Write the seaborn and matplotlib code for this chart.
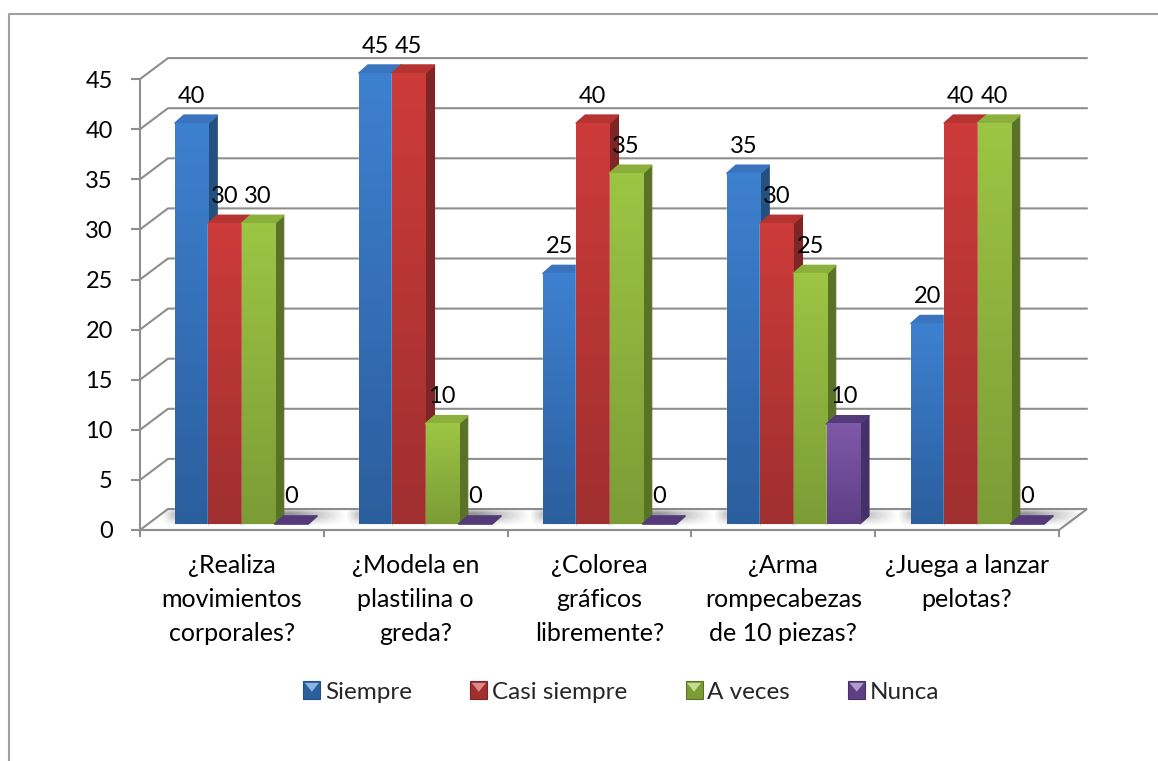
import numpy as np
import pandas as pd
import matplotlib
matplotlib.use('Agg')
import matplotlib.pyplot as plt
from matplotlib.colors import LinearSegmentedColormap, to_rgb
from matplotlib.legend_handler import HandlerBase
from matplotlib.lines import Line2D
from matplotlib.patches import Patch, Polygon, Rectangle
import seaborn as sns

preguntas = ['¿Realiza\nmovimientos\ncorporales?', '¿Modela en\nplastilina o\ngreda?',
             '¿Colorea\ngráficos\nlibremente?', '¿Arma\nrompecabezas\nde 10 piezas?',
             '¿Juega a lanzar\npelotas?']
series = ['Siempre', 'Casi siempre', 'A veces', 'Nunca']
siempre = [40, 45, 25, 35, 20]
casi_siempre = [30, 45, 40, 30, 40]
a_veces = [30, 10, 35, 25, 40]
nunca = [0, 0, 0, 10, 0]
marcas_y = [0, 5, 10, 15, 20, 25, 30, 35, 40, 45]

# claro, oscuro, lado, tapa
colores = {
    'Siempre': ('#3e80d0', '#2b5e9d', '#24507f', '#3a74bf'),
    'Casi siempre': ('#cc3b3a', '#a02f2f', '#7d2625', '#b53331'),
    'A veces': ('#9cc544', '#7c9c36', '#5a7228', '#8bb03c'),
    'Nunca': ('#7f58a8', '#5e3f85', '#45306a', '#553a7a'),
}

W, H = 1158, 761
GRIS = '#8e8e8e'
ESCALA = 10.02  # px por unidad

sns.set_style('white')
plt.rcParams['font.family'] = ['Lato', 'DejaVu Sans']
plt.rcParams['font.size'] = 17

df = pd.DataFrame({
    'pregunta': preguntas * 4,
    'serie': np.repeat(series, 5),
    'valor': siempre + casi_siempre + a_veces + nunca,
})

fig = plt.figure(figsize=(W / 100, H / 100), dpi=100, facecolor='white')

# borde del grafico, recortado a derecha y abajo
fig.add_artist(Line2D([9 / W, 9 / W, 1], [0, 1 - 14 / H, 1 - 14 / H], color='#a0a0a0', lw=1.5))

# paredes y ejes
ax = fig.add_axes([140 / W, (H - 530) / H, 919 / W, 45 * ESCALA / H])
ax.set_xlim(-0.5, 4.5)
ax.set_ylim(0, 45)
ax.patch.set_alpha(0)
sns.despine(ax=ax)
for s in ['left', 'bottom']:
    ax.spines[s].set_color(GRIS)
    ax.spines[s].set_linewidth(1.5)

fondo_x = 28 / (919 / 5)
fondo_y = 21 / ESCALA
ax.add_patch(Polygon([(-0.5, 0), (-0.5 + fondo_x, fondo_y), (4.5 + fondo_x, fondo_y), (4.5, 0)],
                     closed=True, facecolor='white', edgecolor=GRIS, lw=1.5, clip_on=False, zorder=1))
for v in marcas_y[1:]:
    ax.plot([-0.5, -0.5 + fondo_x, 4.5 + fondo_x], [v, v + fondo_y, v + fondo_y],
            color=GRIS, lw=1.5, clip_on=False, zorder=1, solid_joinstyle='miter')

ax.set_yticks(marcas_y)
ax.set_xticks(np.arange(-0.5, 5, 1))
ax.set_xticklabels([])
ax.set_xticks(np.arange(5), labels=preguntas, minor=True)
ax.tick_params(axis='y', length=6.5, width=1.5, color=GRIS, pad=13, labelcolor='black', left=True, labelsize=17)
ax.tick_params(axis='x', which='major', length=5, width=1.5, color=GRIS, bottom=True)
ax.tick_params(axis='x', which='minor', length=0, pad=17, labelcolor='black', labelsize=18)
for t in ax.get_xticklabels(minor=True):
    t.set_linespacing(1.58)

# barras, un poco adentro del piso
ax_b = fig.add_axes([149.5 / W, (H - 524) / H, 920 / W, 45 * ESCALA / H])
ax_b.patch.set_alpha(0)
sns.barplot(data=df, x='pregunta', y='valor', hue='serie', hue_order=series,
            palette=[colores[s][1] for s in series], width=0.723, gap=0, dodge=True,
            legend=False, ax=ax_b)

lado_x = 9 / 184
lado_y = 8 / ESCALA
barras = []
for serie, cont in zip(series, ax_b.containers):
    for p in cont.patches:
        barras.append((p.get_x(), p, serie))
barras.sort(key=lambda b: b[0])

# sombra en el piso
for i in range(5):
    x0 = i - 0.723 / 2 - 14 / 184
    x1 = i + 0.723 / 2 + 38 / 184
    px = np.linspace(0, 1, 80)
    py = np.linspace(0, 1, 20)
    ax_px = np.minimum(np.minimum(px / 0.12, (1 - px) / 0.3), 1)
    ax_py = np.minimum(np.minimum(py / 0.3, (1 - py) / 0.5), 1)
    sombra = np.zeros((20, 80, 4))
    sombra[..., :3] = 0.4
    sombra[..., 3] = np.outer(ax_py, ax_px) * 0.7
    ax_b.imshow(sombra, extent=(x0, x1, -0.2, 1.6), aspect='auto', zorder=1, clip_on=False,
                interpolation='bilinear')

for n, (x, p, serie) in enumerate(barras):
    w = p.get_width()
    h = p.get_height()
    claro, oscuro, lado, tapa = colores[serie]
    z = 2 + n * 0.1
    p.set_zorder(z)
    ax_b.add_patch(Polygon([(x + w, 0), (x + w + lado_x, lado_y), (x + w + lado_x, h + lado_y), (x + w, h)],
                           closed=True, facecolor=lado, edgecolor=lado, lw=0.8, joinstyle='round',
                           clip_on=False, zorder=z))
    ax_b.add_patch(Polygon([(x, h), (x + lado_x, h + lado_y), (x + w + lado_x, h + lado_y), (x + w, h)],
                           closed=True, facecolor=tapa, edgecolor=tapa, lw=1.2, joinstyle='round',
                           clip_on=False, zorder=z + 0.01))
    if h > 0:
        cmap = LinearSegmentedColormap.from_list(serie, [oscuro, claro])
        im = ax_b.imshow(np.linspace(1, 0, 64)[:, None], cmap=cmap, extent=(x, x + w, 0, h),
                         aspect='auto', zorder=z + 0.02, clip_on=False)

for x, p, serie in barras:
    h = p.get_height()
    ax_b.annotate(str(int(h)), (x + p.get_width() / 2, h), xytext=(0, 19.5), textcoords='offset points',
                  ha='center', va='center', color='black', zorder=20, annotation_clip=False, fontsize=17)

ax_b.set_xlim(-0.5, 4.5)
ax_b.set_ylim(0, 45)
ax_b.axis('off')


class Bisel(HandlerBase):
    def create_artists(self, legend, orig, xd, yd, width, height, fontsize, trans):
        claro, oscuro, lado, tapa = colores[orig.get_label()]
        base = Rectangle((-xd, -yd), width, height, facecolor=oscuro, edgecolor=lado, lw=0.8, transform=trans)
        brillo = np.array(to_rgb(claro)) * 0.6 + 0.4
        tri = Polygon([(-xd + 1, -yd + height - 1), (-xd + width - 1, -yd + height - 1),
                       (-xd + width / 2, -yd + height * 0.4)], closed=True, facecolor=brillo,
                      edgecolor='none', transform=trans)
        return [base, tri]


handles = [Patch(label=s) for s in series]
fig.legend(handles=handles, loc='center', bbox_to_anchor=(621.5 / W, 1 - 692 / H), ncol=4, frameon=False,
           handlelength=0.7, handleheight=0.7, handletextpad=0.2, columnspacing=2.39, borderpad=0,
           handler_map={Patch: Bisel()}, fontsize=17.5)

fig.savefig('out.png', dpi=100)
